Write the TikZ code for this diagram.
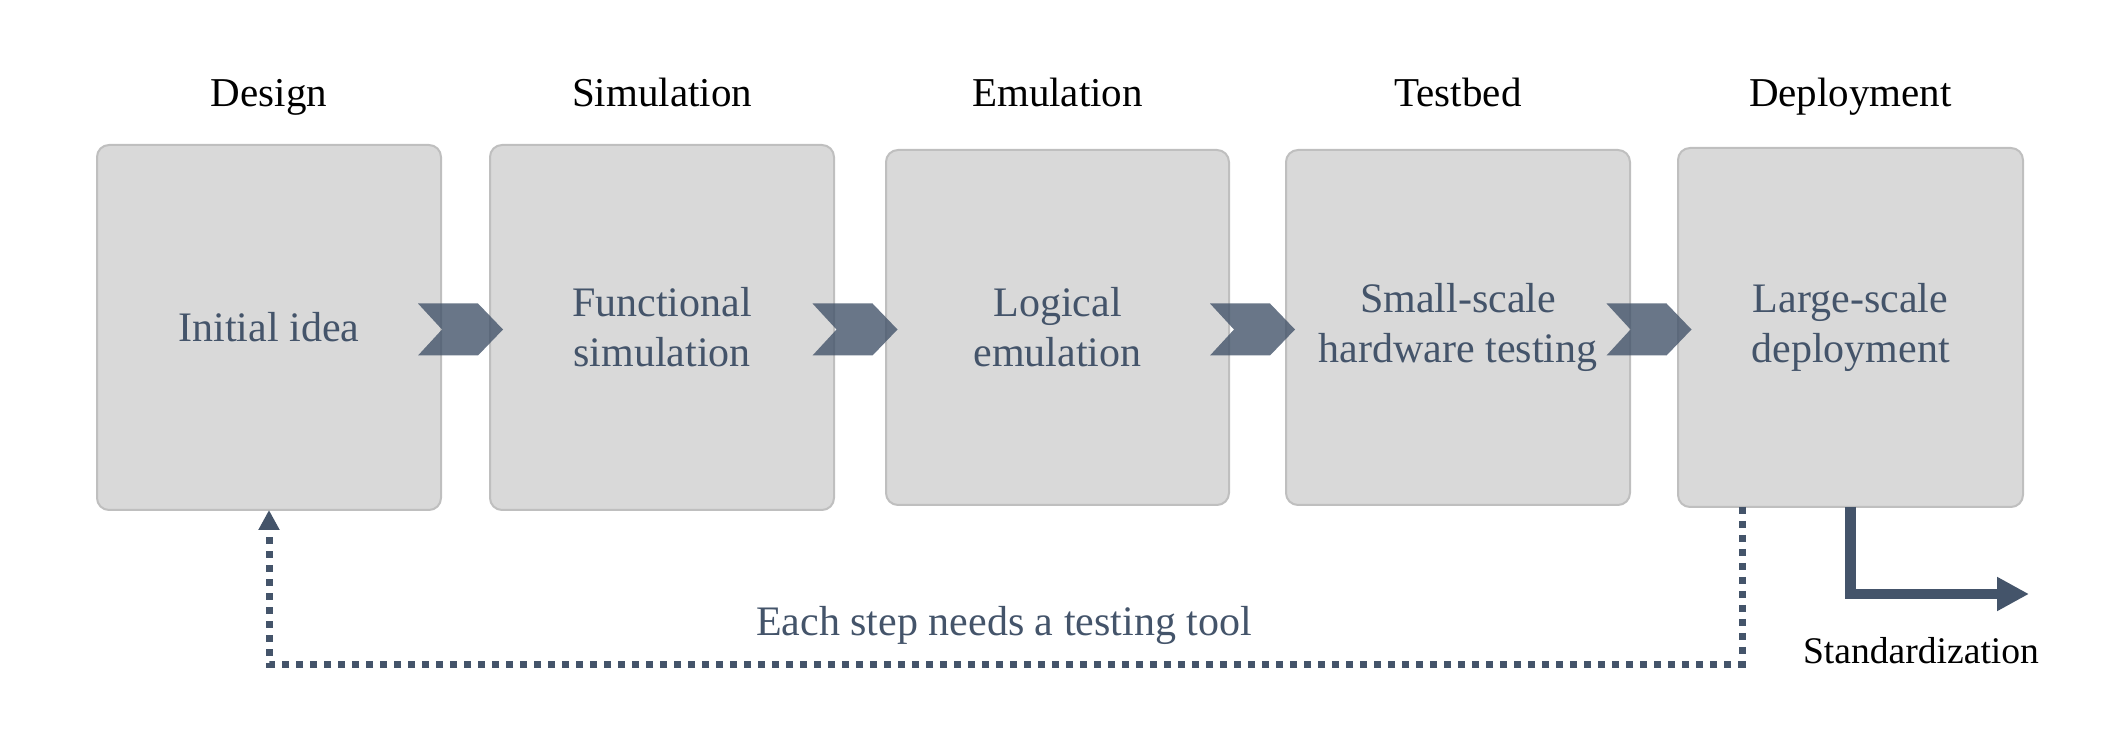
\documentclass[tikz,border=0pt]{standalone}
\usepackage{fontspec}
\setmainfont{Liberation Serif}
\usetikzlibrary{calc,arrows.meta}
\definecolor{slate}{HTML}{44546A}
\definecolor{boxfill}{HTML}{D9D9D9}
\definecolor{boxline}{HTML}{BFBFBF}
\tikzset{
  stagebox/.style={draw=boxline, line width=1pt, fill=boxfill, rounded corners=6pt,
    outer sep=0pt, inner sep=0pt, align=center, text=slate,
    font=\fontsize{21}{25}\selectfont},
  hdr/.style={anchor=base, text=black, font=\fontsize{20.5}{24}\selectfont, inner sep=0pt},
  chev/.pic={\fill[slate, fill opacity=0.8] (-42.5,-26) -- (17.5,-26) -- (42.5,0) -- (17.5,26) -- (-42.5,26) -- (-18.5,0) -- cycle;},
  fb/.style={draw=slate, line width=3.5pt, dash pattern=on 3.5pt off 3.5pt,
    -{Triangle[length=10pt,width=10pt]}},
  stdarrow/.style={draw=slate, line width=5.3pt, -{Triangle[length=16pt,width=16pt]}},
}
\begin{document}
\begin{tikzpicture}[x=0.5pt,y=-0.5pt]
\useasboundingbox (0,0) rectangle (2122,748);
% stage boxes
\node[stagebox, minimum width=172pt, minimum height=182.5pt] (b1) at (269,327.5) {Initial idea};
\node[stagebox, minimum width=172pt, minimum height=182.5pt] (b2) at (662,327.5) {Functional\\simulation};
\node[stagebox, minimum width=171.5pt, minimum height=177.5pt] (b3) at (1057.5,327.5) {Logical\\emulation};
\node[stagebox, minimum width=172pt, minimum height=177.5pt] (b4) at (1458,327.5) {Small-scale\\hardware testing};
\node[stagebox, minimum width=172.5pt, minimum height=179.5pt] (b5) at (1850.5,327.5) {Large-scale\\deployment};
% headers
\node[hdr] (h1) at (b1.center |- 0,107) {Design};
\node[hdr] (h2) at (b2.center |- 0,107) {Simulation};
\node[hdr] (h3) at (b3.center |- 0,107) {Emulation};
\node[hdr] (h4) at (b4.center |- 0,107) {Testbed};
\node[hdr] (h5) at (b5.center |- 0,107) {Deployment};
% chevrons between boxes
\pic at ($(b1.east)!0.5!(b2.west)+(-5,2)$) {chev};
\pic at ($(b2.east)!0.5!(b3.west)+(-5,2)$) {chev};
\pic at ($(b3.east)!0.5!(b4.west)+(-5,2)$) {chev};
\pic at ($(b4.east)!0.5!(b5.west)+(-5,2)$) {chev};
% feedback loop
\coordinate (fbR) at ($(b5.south west)+(64,0)$);
\draw[fb] (fbR) -- ++(0,157) -| (b1.south);
\node[anchor=base, text=slate, font=\fontsize{21}{25}\selectfont, inner sep=0pt] (fbl) at (1004,635) {Each step needs a testing tool};
% standardization
\coordinate (stdE) at (2029,594);
\draw[stdarrow] (b5.south) |- (stdE);
\node[anchor=base, text=black, font=\fontsize{18.8}{22}\selectfont, inner sep=0pt] (std) at (1921,663) {Standardization};
\end{tikzpicture}
\end{document}
